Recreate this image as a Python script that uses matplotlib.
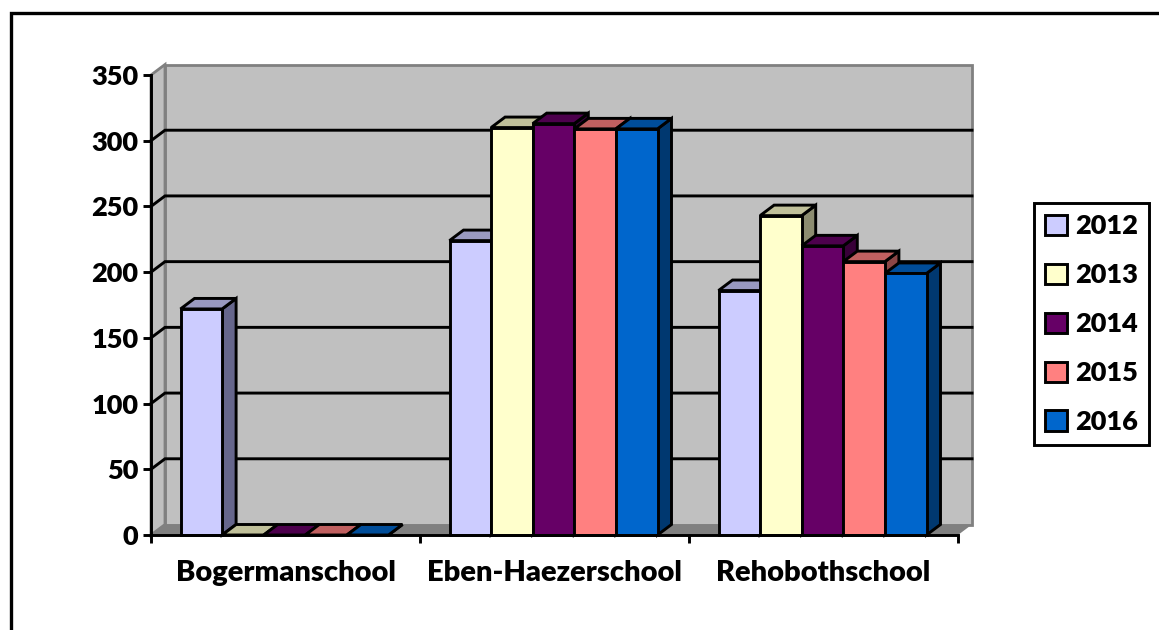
#!/usr/bin/env python3
"""Clustered pseudo-3D column chart: pupils per school, 2012-2016."""

import matplotlib
matplotlib.use('Agg')
import matplotlib.pyplot as plt
from matplotlib.patches import Patch, Polygon, Rectangle

plt.rcParams['font.family'] = ['Lato', 'DejaVu Sans']
plt.rcParams['font.weight'] = 'heavy'

# %% Data
schools = ['Bogermanschool', 'Eben-Haezerschool', 'Rehobothschool']
years = ['2012', '2013', '2014', '2015', '2016']
values_2012 = [172, 224, 186]
values_2013 = [0, 310, 243]
values_2014 = [0, 313, 220]
values_2015 = [0, 309, 208]
values_2016 = [0, 309, 199]
series = [values_2012, values_2013, values_2014, values_2015, values_2016]
y_ticks = [0, 50, 100, 150, 200, 250, 300, 350]

# %% Styles: front, top, side
colors = ['#CCCCFF', '#FFFFCC', '#660066', '#FF8080', '#0066CC']
top_colors = ['#9999C0', '#C0C09A', '#4D004D', '#C06060', '#004D99']
side_colors = ['#66668C', '#8C8C70', '#380038', '#8C4646', '#003870']

W, H = 1159, 630
# plot box in pixels of the image
LEFT, RIGHT, BOTTOM, TOP = 151, 958, 535, 75
YMAX = 350
XMAX = len(schools)
LW = 2.1
FONT = 19.5
# depth of the fake 3D, in data units
DX = 14 / (RIGHT - LEFT) * XMAX
DY = 10.5 / (BOTTOM - TOP) * YMAX
BAR_W = 41.6 / (RIGHT - LEFT) * XMAX
GAP = 29.5 / (RIGHT - LEFT) * XMAX


def face(ax, pts, color, edge='none', lw=0, z=1):
    ax.add_patch(Polygon(pts, closed=True, facecolor=color, edgecolor=edge,
                         linewidth=lw, zorder=z, clip_on=False,
                         joinstyle='miter'))


fig = plt.figure(figsize=(W / 100, H / 100), dpi=100)
ax = fig.add_axes([LEFT / W, 1 - BOTTOM / H, (RIGHT - LEFT) / W,
                   (BOTTOM - TOP) / H])
ax.set_xlim(0, XMAX)
ax.set_ylim(0, YMAX)
ax.patch.set_visible(False)

# outer chart frame, open towards the right and bottom image edges
fig.add_artist(Rectangle((10.5 / W, -0.1), (W + 20) / W, 1.1 - 13.5 / H,
                         transform=fig.transFigure, fill=False,
                         edgecolor='black', linewidth=2.4))

# %% Walls and floor
face(ax, [(DX, DY), (XMAX + DX, DY), (XMAX + DX, YMAX + DY), (DX, YMAX + DY)],
     '#C0C0C0', '#808080', 2)
face(ax, [(0, 0), (DX, DY), (DX, YMAX + DY), (0, YMAX)], '#C0C0C0', '#808080', 2)
face(ax, [(0, 0), (XMAX, 0), (XMAX + DX, DY), (DX, DY)], '#808080')

for t in y_ticks[1:-1]:
    ax.plot([0, DX, XMAX + DX], [t, t + DY, t + DY], color='black', lw=LW,
            zorder=2, clip_on=False, solid_joinstyle='miter')

# %% Columns, left to right so each one overlaps the previous side face
z = 3
for g in range(len(schools)):
    for s, vals in enumerate(series):
        v = vals[g]
        x0 = g + GAP + s * BAR_W
        x1 = x0 + BAR_W
        face(ax, [(x1, 0), (x1 + DX, DY), (x1 + DX, v + DY), (x1, v)],
             side_colors[s], 'black', LW, z)
        face(ax, [(x0, v), (x1, v), (x1 + DX, v + DY), (x0 + DX, v + DY)],
             top_colors[s], 'black', LW, z)
        if v > 0:
            ax.bar(x0, v, width=BAR_W, align='edge', color=colors[s],
                   edgecolor='black', linewidth=LW, zorder=z, clip_on=False)
        z += 1

# %% Axes
for side in ('top', 'right'):
    ax.spines[side].set_visible(False)
for side in ('left', 'bottom'):
    ax.spines[side].set_linewidth(LW)
    ax.spines[side].set_zorder(50)
ax.set_yticks(y_ticks)
ax.set_xticks(range(XMAX + 1))
ax.set_xticklabels([])
ax.tick_params(axis='both', length=6, width=LW, color='black')
ax.tick_params(axis='y', labelsize=FONT, pad=3)
for i, name in enumerate(schools):
    ax.annotate(name, (i + 0.5, 0), xytext=(0, -38), textcoords='offset pixels',
                ha='center', va='center', fontsize=21, fontweight='heavy',
                annotation_clip=False)

handles = [Patch(facecolor=c, edgecolor='black', linewidth=LW, label=y)
           for c, y in zip(colors, years)]
leg = ax.legend(handles=handles, loc='upper left', frameon=True, fancybox=False,
                bbox_to_anchor=((1034 - LEFT) / (RIGHT - LEFT),
                                (BOTTOM - 203) / (BOTTOM - TOP)),
                prop={'size': FONT, 'weight': 'heavy'}, handlelength=0.78,
                handleheight=0.78, handletextpad=0.3, labelspacing=0.92,
                borderpad=0.42, borderaxespad=0)
leg.get_frame().set_edgecolor('black')
leg.get_frame().set_linewidth(LW)
leg.get_frame().set_alpha(1)
leg.set_zorder(60)

fig.savefig('out.png', dpi=100)
